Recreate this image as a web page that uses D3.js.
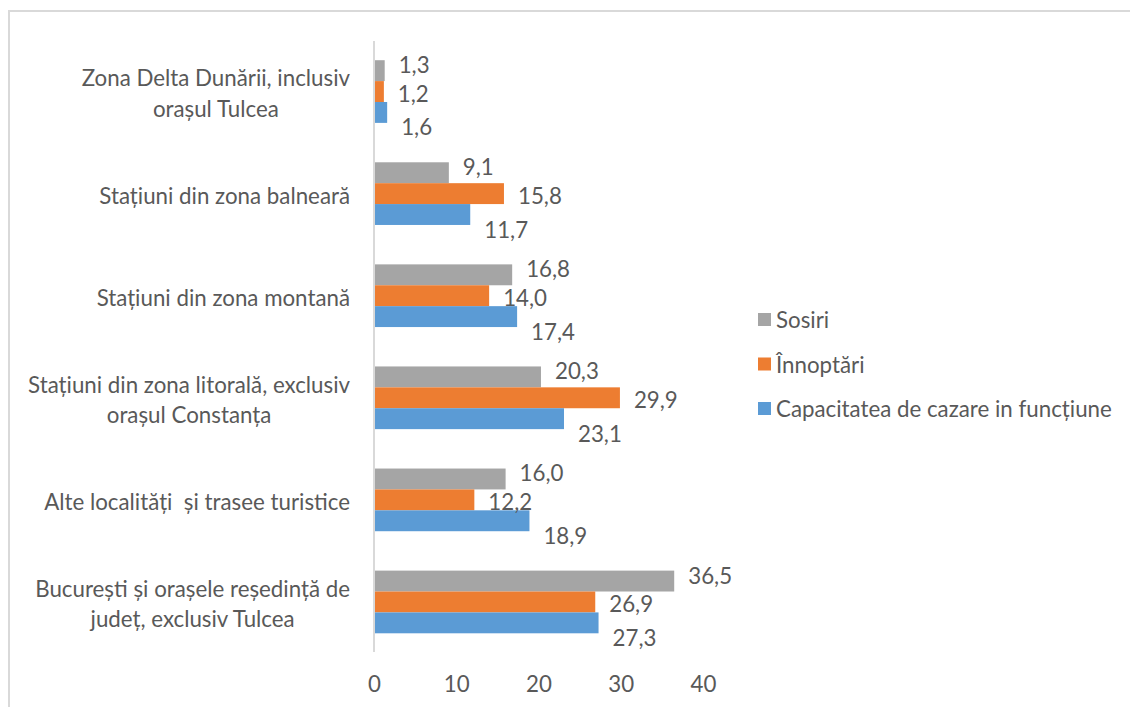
<!DOCTYPE html>
<html><head><meta charset="utf-8">
<script src="https://cdn.jsdelivr.net/npm/d3@7"></script>
<style>
html,body{margin:0;padding:0;background:#fff;}
svg{display:block;}
text{font-family:Lato,"Open Sans",sans-serif;fill:#595959;white-space:pre;}
</style></head>
<body>
<svg id="chart" width="1130" height="707"></svg>
<script>
const categories = [
  "Zona Delta Dunării, inclusiv\norașul Tulcea",
  "Stațiuni din zona balneară",
  "Stațiuni din zona montană",
  "Stațiuni din zona litorală, exclusiv\norașul Constanța",
  "Alte localități  și trasee turistice",
  "București și orașele reședință de\njudeț, exclusiv Tulcea"
];
const seriesNames = ["Sosiri", "Înnoptări", "Capacitatea de cazare in funcțiune"];
const sosiri = [1.3, 9.1, 16.8, 20.3, 16.0, 36.5];
const innoptari = [1.2, 15.8, 14.0, 29.9, 12.2, 26.9];
const capacitate = [1.6, 11.7, 17.4, 23.1, 18.9, 27.3];
const xTicks = [0, 10, 20, 30, 40];

const seriesValues = [sosiri, innoptari, capacitate];
const colors = ["#A5A5A5", "#ED7D31", "#5B9BD5"];
const labelDy = [-6, 1.5, 14.5];

const svg = d3.select("#chart");
const fontSize = 22.3;

// frame
svg.append("rect").attr("x", 9).attr("y", 11).attr("width", 1140).attr("height", 720)
  .attr("fill", "none").attr("stroke", "#d9d9d9").attr("stroke-width", 2);

const x = d3.scaleLinear().domain([0, 40]).range([374, 703]);
const y = d3.scaleBand().domain(categories).range([40.5, 653])
  .paddingInner(0.386).paddingOuter(0.193);
const ySub = d3.scaleBand().domain([0, 1, 2]).range([0, y.bandwidth()]);

// category axis line
svg.append("line").attr("x1", x(0)).attr("x2", x(0)).attr("y1", 41).attr("y2", 652)
  .attr("stroke", "#d9d9d9").attr("stroke-width", 2);

// bars
const groups = svg.append("g").selectAll("g").data(categories).join("g")
  .attr("transform", d => `translate(0,${y(d)})`);

groups.each(function(cat, ci) {
  const g = d3.select(this);
  seriesValues.forEach((vals, si) => {
    g.append("rect")
      .attr("x", x(0) + 1)
      .attr("y", ySub(si))
      .attr("width", x(vals[ci]) - x(0) - 1)
      .attr("height", ySub.bandwidth())
      .attr("fill", colors[si]);
  });
});
groups.each(function(cat, ci) {
  const g = d3.select(this);
  seriesValues.forEach((vals, si) => {
    g.append("text")
      .attr("x", x(vals[ci]) + 14)
      .attr("y", ySub(si) + ySub.bandwidth() / 2 + labelDy[si])
      .attr("dominant-baseline", "central")
      .attr("font-size", fontSize)
      .text(d3.format(".1f")(vals[ci]).replace(".", ","));
  });
});

// category labels
const catG = svg.append("g");
categories.forEach(cat => {
  const lines = cat.split("\n");
  const t = catG.append("text").attr("font-size", fontSize).attr("text-anchor", "middle")
    .attr("dominant-baseline", "central");
  const lh = 30.5;
  const cy = y(cat) + y.bandwidth() / 2 + 1;
  lines.forEach((ln, i) => {
    t.append("tspan").attr("y", cy + (i - (lines.length - 1) / 2) * lh).text(ln);
  });
  let maxW = 0;
  t.selectAll("tspan").each(function() { maxW = Math.max(maxW, this.getComputedTextLength()); });
  t.selectAll("tspan").attr("x", 350 - maxW / 2);
});

// x axis (no line)
const xAxis = d3.axisBottom(x).tickValues(xTicks).tickSize(0).tickPadding(0);
const ax = svg.append("g").attr("transform", "translate(0,676)").call(xAxis);
ax.select(".domain").remove();
ax.selectAll("text").attr("font-size", fontSize).attr("font-family", "Lato,'Open Sans',sans-serif")
  .attr("fill", "#595959").attr("dy", "0.71em");

// legend
const legend = svg.append("g");
const legY = d3.scalePoint().domain(seriesNames).range([319.5, 408.5]);
seriesNames.forEach((name, i) => {
  legend.append("rect").attr("x", 758).attr("y", legY(name) - 6.5).attr("width", 13).attr("height", 13)
    .attr("fill", colors[i]);
  legend.append("text").attr("x", 776).attr("y", legY(name)).attr("dominant-baseline", "central")
    .attr("font-size", fontSize).text(name);
});
</script>
</body></html>
